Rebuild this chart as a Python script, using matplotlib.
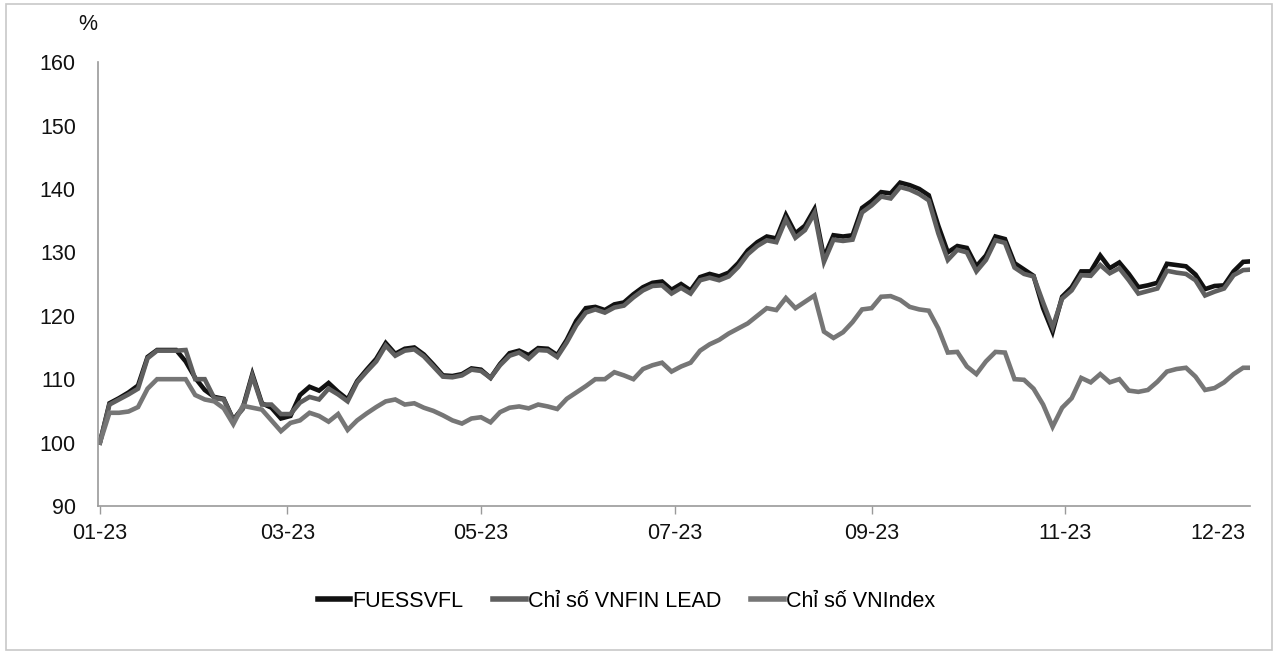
import pandas as pd
import matplotlib
matplotlib.use('Agg')
import matplotlib.pyplot as plt
from matplotlib.patches import Rectangle

plt.rcParams['font.family'] = ['Liberation Sans', 'DejaVu Sans']

# observation dates (every 3 calendar days through 2023)
dates = pd.date_range('2023-01-01', periods=122, freq='3D')

fuessvfl = [
    100, 106.2, 107, 107.9, 109, 113.5, 114.6, 114.6, 114.6, 112.8,
    110.2, 108.3, 107.2, 106.9, 103.6, 105.5, 110.8, 106.2, 105.5, 103.8,
    104.2, 107.5, 108.8, 108.2, 109.4, 108, 106.8, 109.7, 111.5, 113.2,
    115.7, 114, 114.8, 115, 113.9, 112.3, 110.6, 110.5, 110.8, 111.7,
    111.5, 110.2, 112.4, 114.1, 114.5, 113.8, 114.9, 114.8, 113.8, 116.2,
    119.2, 121.2, 121.4, 120.9, 121.8, 122.1, 123.4, 124.5, 125.2, 125.4,
    124.1, 125, 124, 126.1, 126.6, 126.2, 126.8, 128.3, 130.3, 131.6,
    132.5, 132.2, 135.9, 133, 134.2, 136.8, 129.2, 132.7, 132.5, 132.7,
    137, 138.1, 139.5, 139.3, 141, 140.6, 140, 139, 134.2, 130,
    131, 130.7, 127.8, 129.5, 132.5, 132.1, 128.3, 127.3, 126.3, 121.2,
    117.5, 123, 124.5, 127, 127, 129.5, 127.5, 128.4, 126.6, 124.5,
    124.8, 125.2, 128.2, 128, 127.8, 126.5, 124.2, 124.7, 124.8, 127,
    128.5, 128.6,
]

vnfin_lead = [
    100, 106, 106.8, 107.6, 108.5, 113.3, 114.5, 114.5, 114.5, 114.6,
    110, 110, 107, 106.8, 103.5, 105.3, 110.5, 106, 106, 104.5,
    104.5, 106.3, 107.2, 106.8, 108.5, 107.6, 106.5, 109.5, 111.2, 112.8,
    115.3, 113.7, 114.5, 114.7, 113.6, 112, 110.4, 110.3, 110.6, 111.5,
    111.3, 110.2, 112.2, 113.7, 114.2, 113.2, 114.6, 114.5, 113.5, 115.8,
    118.5, 120.5, 121, 120.5, 121.3, 121.6, 122.9, 124, 124.7, 124.8,
    123.5, 124.4, 123.5, 125.6, 126, 125.6, 126.2, 127.7, 129.7, 131,
    131.9, 131.6, 135.2, 132.3, 133.5, 136.2, 128.5, 132, 131.8, 132,
    136.3, 137.4, 138.8, 138.5, 140.3, 139.9, 139.2, 138.2, 133, 128.8,
    130.4, 130, 127, 128.8, 131.9, 131.5, 127.6, 126.6, 126.2, 122.1,
    118.2, 122.7, 124, 126.4, 126.3, 128, 126.7, 127.5, 125.6, 123.5,
    123.9, 124.3, 127.1, 126.8, 126.6, 125.6, 123.2, 123.8, 124.3, 126.4,
    127.2, 127.3,
]

vnindex = [
    100, 104.7, 104.7, 104.9, 105.6, 108.5, 110, 110, 110, 110,
    107.5, 106.8, 106.5, 105.4, 102.9, 105.8, 105.5, 105.2, 103.5, 101.8,
    103.1, 103.5, 104.7, 104.2, 103.3, 104.5, 102, 103.5, 104.6, 105.6,
    106.5, 106.8, 106, 106.2, 105.5, 105, 104.3, 103.5, 103, 103.8,
    104, 103.2, 104.8, 105.5, 105.7, 105.4, 106, 105.7, 105.3, 106.9,
    107.9, 108.9, 110, 110, 111.1, 110.6, 110, 111.6, 112.2, 112.6,
    111.2, 112, 112.6, 114.5, 115.5, 116.2, 117.2, 118, 118.8, 120,
    121.2, 120.9, 122.8, 121.2, 122.2, 123.2, 117.5, 116.5, 117.4, 119,
    121, 121.2, 123, 123.1, 122.5, 121.4, 121, 120.8, 118, 114.2,
    114.3, 112, 110.8, 112.8, 114.3, 114.2, 110, 109.9, 108.5, 106,
    102.5, 105.5, 107, 110.2, 109.5, 110.8, 109.5, 110, 108.2, 108,
    108.3, 109.6, 111.2, 111.6, 111.8, 110.4, 108.3, 108.6, 109.5, 110.8,
    111.8, 111.8,
]

series_names = ['FUESSVFL', 'Chỉ số VNFIN LEAD', 'Chỉ số VNIndex']
series_colors = ['#111111', '#5f5f5f', '#767676']

tick_dates = pd.to_datetime(['2023-01-01', '2023-03-01', '2023-05-01', '2023-07-01',
                             '2023-09-01', '2023-11-01', '2023-12-19'])
tick_labels = ['01-23', '03-23', '05-23', '07-23', '09-23', '11-23', '12-23']

fig = plt.figure(figsize=(12.78, 6.54), dpi=100)
fig.patches.append(Rectangle((0.005, 0.006), 0.99, 0.988, transform=fig.transFigure,
                             fill=False, edgecolor='#c8c8c8', linewidth=1.2))
ax = fig.add_axes([0.0767, 0.2263, 0.901, 0.6787])

for vals, name, col in zip([fuessvfl, vnfin_lead, vnindex], series_names, series_colors):
    ax.plot(dates, vals, color=col, linewidth=3.3, label=name, solid_joinstyle='miter')

ax.set_ylim(90, 160)
ax.set_yticks(range(90, 161, 10))
ax.set_xlim(pd.Timestamp('2023-01-01') - pd.Timedelta(days=0.6), pd.Timestamp('2023-12-29'))
ax.set_xticks(tick_dates)
ax.set_xticklabels(tick_labels)
ax.xaxis.get_major_ticks()[-1].tick1line.set_visible(False)

ax.tick_params(axis='y', length=0, pad=16, labelsize=15.5, labelcolor='#111111')
ax.tick_params(axis='x', length=6, width=1, color='#9a9a9a', direction='out', pad=6,
               labelsize=15.5, labelcolor='#111111')
for s in ['top', 'right']:
    ax.spines[s].set_visible(False)
for s in ['left', 'bottom']:
    ax.spines[s].set_color('#9a9a9a')
    ax.spines[s].set_linewidth(1.2)

fig.text(0.069, 0.962, '%', fontsize=15.5, ha='center', va='center', color='#111111')

leg = fig.legend(loc='center', bbox_to_anchor=(0.49, 0.081), ncol=3, frameon=False,
                 fontsize=15.5, handlelength=1.5, handletextpad=0.1, columnspacing=1.4)
for h in leg.get_lines():
    h.set_linewidth(4)

plt.savefig('out.png', dpi=100)
